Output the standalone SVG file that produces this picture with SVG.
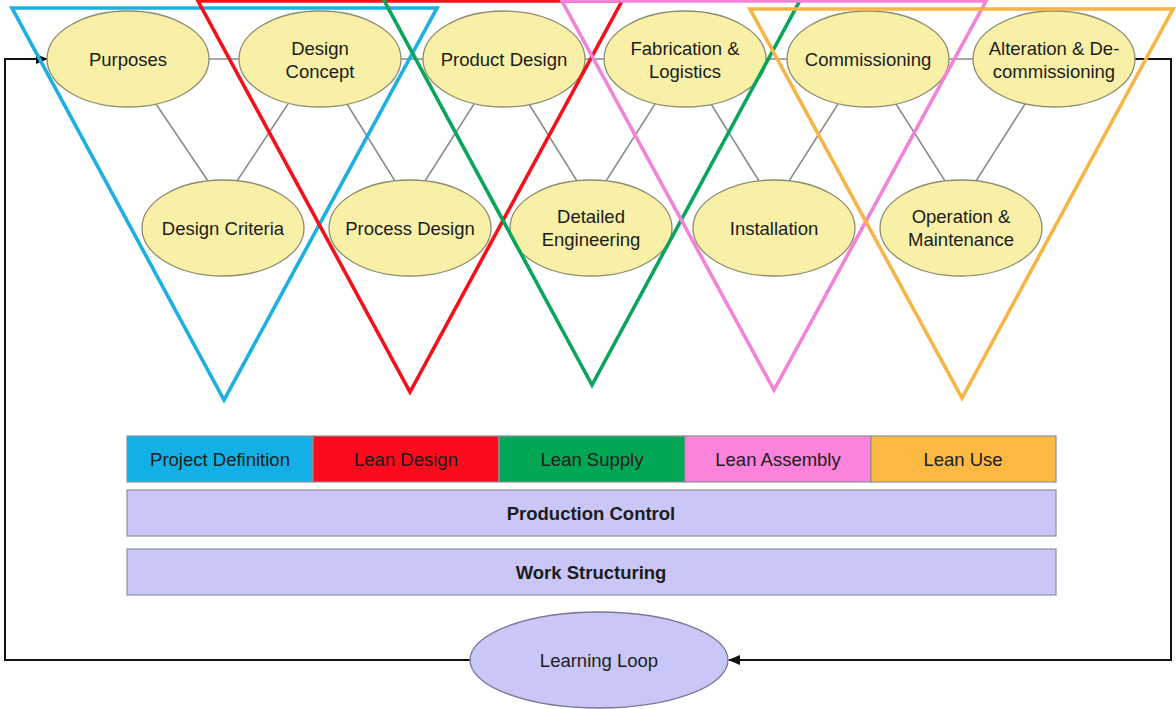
<svg xmlns="http://www.w3.org/2000/svg" width="1176" height="709" viewBox="0 0 1176 709">
<defs>
<style>
.node{fill:#f7f0a6;stroke:#8e8c70;stroke-width:1.3}
.lbl{font-family:"Liberation Sans",Arial,sans-serif;font-size:18.5px;fill:#1c1c1c;text-anchor:middle}
.b{font-weight:bold}
.link{stroke:#8a8a8a;stroke-width:1.5;fill:none}
.loop{stroke:#111;stroke-width:2;fill:none}
.tri{fill:none;stroke-width:3.6;stroke-linejoin:miter}
.bar{stroke:#8f8f9a;stroke-width:1.2}
</style>
<marker id="arr" markerWidth="12" markerHeight="10" refX="11" refY="5" orient="auto" markerUnits="userSpaceOnUse">
<path d="M0,0 L12,5 L0,10 z" fill="#111"/>
</marker>
</defs>
<rect width="1176" height="709" fill="#fff"/>

<g id="connectors">
<line class="link" x1="208" y1="59" x2="240" y2="59"/>
<line class="link" x1="401" y1="59" x2="424" y2="59"/>
<line class="link" x1="584" y1="59" x2="605" y2="59"/>
<line class="link" x1="765" y1="59" x2="788" y2="59"/>
<line class="link" x1="948" y1="59" x2="975" y2="59"/>
<line class="link" x1="156" y1="104" x2="208" y2="181"/>
<line class="link" x1="288" y1="104" x2="237" y2="181"/>
<line class="link" x1="347" y1="104" x2="395" y2="181"/>
<line class="link" x1="474" y1="104" x2="425" y2="181"/>
<line class="link" x1="529" y1="104" x2="577" y2="181"/>
<line class="link" x1="655" y1="104" x2="606" y2="181"/>
<line class="link" x1="711" y1="104" x2="759" y2="181"/>
<line class="link" x1="838" y1="104" x2="789" y2="181"/>
<line class="link" x1="896" y1="104" x2="945" y2="181"/>
<line class="link" x1="1025" y1="104" x2="976" y2="181"/>
<path class="loop" d="M1135,59 H1171 V660 H729" marker-end="url(#arr)"/>
<path class="loop" d="M471,660 H5 V59 H47" marker-end="url(#arr)"/>
</g>

<g id="purposes"><ellipse class="node" cx="128" cy="59" rx="81" ry="48"/><text class="lbl" x="128" y="66">Purposes</text></g>
<g id="design-concept"><ellipse class="node" cx="320" cy="59" rx="81" ry="48"/><text class="lbl" x="320" y="55">Design</text><text class="lbl" x="320" y="78">Concept</text></g>
<g id="product-design"><ellipse class="node" cx="504" cy="59" rx="81" ry="48"/><text class="lbl" x="504" y="66">Product Design</text></g>
<g id="fabrication"><ellipse class="node" cx="685" cy="59" rx="81" ry="48"/><text class="lbl" x="685" y="55">Fabrication &amp;</text><text class="lbl" x="685" y="78">Logistics</text></g>
<g id="commissioning"><ellipse class="node" cx="868" cy="59" rx="81" ry="48"/><text class="lbl" x="868" y="66">Commissioning</text></g>
<g id="alteration"><ellipse class="node" cx="1054" cy="59" rx="81" ry="48"/><text class="lbl" x="1054" y="55">Alteration &amp; De-</text><text class="lbl" x="1054" y="78">commissioning</text></g>

<g id="design-criteria"><ellipse class="node" cx="223" cy="228" rx="81" ry="48"/><text class="lbl" x="223" y="235">Design Criteria</text></g>
<g id="process-design"><ellipse class="node" cx="410" cy="228" rx="81" ry="48"/><text class="lbl" x="410" y="235">Process Design</text></g>
<g id="detailed-engineering"><ellipse class="node" cx="591" cy="228" rx="81" ry="48"/><text class="lbl" x="591" y="223">Detailed</text><text class="lbl" x="591" y="246">Engineering</text></g>
<g id="installation"><ellipse class="node" cx="774" cy="228" rx="81" ry="48"/><text class="lbl" x="774" y="235">Installation</text></g>
<g id="operation"><ellipse class="node" cx="961" cy="228" rx="81" ry="48"/><text class="lbl" x="961" y="223">Operation &amp;</text><text class="lbl" x="961" y="246">Maintenance</text></g>

<g id="triangles">
<polygon class="tri" stroke="#1cb0e2" points="12,8 437,8 224,400"/>
<polygon class="tri" stroke="#f5101c" points="198,1 622,1 410,392"/>
<polygon class="tri" stroke="#0aa55a" points="380,-7 804,-7 592,385"/>
<polygon class="tri" stroke="#f283d6" points="562,1 986,1 774,390"/>
<polygon class="tri" stroke="#f8b444" points="750,9 1173,9 962,398"/>
</g>

<g id="phase-bar">
<rect class="bar" x="127" y="436" width="186" height="46" fill="#12b0e6"/>
<rect class="bar" x="313" y="436" width="186" height="46" fill="#fd0a1c"/>
<rect class="bar" x="499" y="436" width="186" height="46" fill="#02a756"/>
<rect class="bar" x="685" y="436" width="186" height="46" fill="#fd82dc"/>
<rect class="bar" x="871" y="436" width="185" height="46" fill="#fbb942"/>
<text class="lbl" x="220" y="466">Project Definition</text>
<text class="lbl" x="406" y="466">Lean Design</text>
<text class="lbl" x="592" y="466">Lean Supply</text>
<text class="lbl" x="778" y="466">Lean Assembly</text>
<text class="lbl" x="963" y="466">Lean Use</text>
</g>
<g id="production-control"><rect class="bar" x="127" y="490" width="929" height="46" fill="#c8c7f7"/><text class="lbl b" x="591" y="520">Production Control</text></g>
<g id="work-structuring"><rect class="bar" x="127" y="549" width="929" height="46" fill="#c8c7f7"/><text class="lbl b" x="591" y="579">Work Structuring</text></g>
<g id="learning-loop"><ellipse cx="599" cy="660" rx="129" ry="48" fill="#c8c7f7" stroke="#7a7a90" stroke-width="1.3"/><text class="lbl" x="599" y="667">Learning Loop</text></g>
</svg>
